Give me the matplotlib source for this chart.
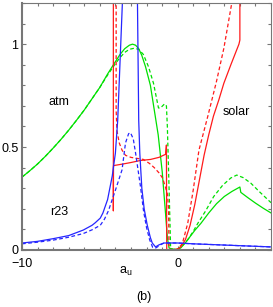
import numpy as np
import matplotlib
matplotlib.use("Agg")
import matplotlib.pyplot as plt
from matplotlib.ticker import MultipleLocator, FixedLocator, FixedFormatter

plt.rcParams['font.family'] = ['Liberation Sans', 'DejaVu Sans']

# atm (green)
atm_x = [-10, -9.5, -9, -8.5, -8, -7.5, -7, -6.5, -6, -5.5, -5, -4.5, -4, -3.7, -3.4, -3.1,
         -2.9, -2.7, -2.5, -2.3, -2.06, -1.75, -1.5, -1.25, -0.99, -0.8, -0.66, -0.55, -0.3,
         0.0, 0.2, 0.5, 0.8, 1.1, 1.5, 2.0, 2.5, 3.0, 3.5, 4.0, 4.06, 4.5, 5.0, 5.5, 6.0]
atm_y = [0.354, 0.385, 0.418, 0.455, 0.495, 0.537, 0.582, 0.63, 0.68, 0.735, 0.79, 0.855,
         0.915, 0.95, 0.978, 0.995, 1.0, 0.995, 0.978, 0.945, 0.89, 0.8, 0.68, 0.56, 0.38,
         0.2, 0.06, 0.01, 0.003, 0.003, 0.01, 0.035, 0.065, 0.095, 0.13, 0.18, 0.225, 0.26,
         0.285, 0.306, 0.28, 0.255, 0.228, 0.203, 0.18]
atm2_x = [-10, -9.5, -9, -8.5, -8, -7.5, -7, -6.5, -6, -5.5, -5, -4.5, -4, -3.7, -3.4, -3.1,
          -2.8, -2.5, -2.2, -1.87, -1.55, -1.23, -1.1, -0.84, -0.72, -0.66, -0.55, -0.45,
          -0.3, 0.0, 0.3, 0.65, 1.0, 1.3, 1.8, 2.32, 2.9, 3.42, 3.8, 4.2, 4.7, 5.3, 6.0]
atm2_y = [0.354, 0.385, 0.418, 0.455, 0.495, 0.537, 0.582, 0.63, 0.68, 0.735, 0.79, 0.85,
          0.905, 0.935, 0.96, 0.975, 0.98, 0.975, 0.95, 0.89, 0.81, 0.69, 0.69, 0.71, 0.7,
          0.6, 0.3, 0.01, 0.003, 0.005, 0.02, 0.05, 0.09, 0.13, 0.19, 0.26, 0.315, 0.35,
          0.364, 0.352, 0.325, 0.28, 0.23]

# solar (red)
sol_x = [-4.13, -4.13, -4.12, -3.5, -3.0, -2.39, -1.74, -1.2, -0.77, -0.72, -0.7, -0.4, 0.0,
         0.2, 0.5, 0.8, 1.1, 1.4, 1.7, 2.0, 2.3, 2.65, 2.97, 3.42, 3.94, 4.0, 4.0]
sol_y = [1.3, 0.19, 0.41, 0.418, 0.425, 0.435, 0.44, 0.45, 0.465, 0.51, 0.002, 0.002, 0.003,
         0.015, 0.05, 0.12, 0.22, 0.34, 0.46, 0.56, 0.65, 0.73, 0.81, 0.9, 1.0, 1.02, 1.3]
sol2_x = [-3.95, -3.95, -3.9, -3.75, -3.57, -3.35, -3.0, -2.6, -2.2, -1.8, -1.5, -1.2, -0.97,
          -0.8, -0.65, -0.58, -0.56, -0.54, -0.2, 0.0, 0.3, 0.65, 1.0, 1.37, 1.94, 2.5, 2.97,
          3.48, 3.6]
sol2_y = [1.3, 0.68, 0.58, 0.52, 0.485, 0.46, 0.45, 0.445, 0.44, 0.42, 0.4, 0.375, 0.35,
          0.31, 0.27, 0.19, 0.05, 0.003, 0.002, 0.005, 0.03, 0.13, 0.29, 0.485, 0.65, 0.82,
          0.98, 1.2, 1.3]

# r23 (blue)
r23_x = [-10, -9, -8, -7, -6.06, -5.5, -5.3, -4.97, -4.8, -4.5, -4.2, -4.0, -3.85, -3.55,
         -3.1, -2.58, -2.5, -2.43, -2.3, -2.15, -1.95, -1.75, -1.63, -1.42, -1.2, -0.88, 0.0,
         1.0, 2.0, 3.0, 4.0, 5.0, 6.0]
r23_y = [0.034, 0.042, 0.055, 0.07, 0.097, 0.12, 0.132, 0.155, 0.18, 0.245, 0.36, 0.47, 0.63,
         1.2, 1.6, 1.2, 0.63, 0.47, 0.3, 0.2, 0.12, 0.06, 0.034, 0.015, 0.025, 0.034, 0.034,
         0.03, 0.027, 0.024, 0.021, 0.018, 0.015]
r232_x = [-10, -9, -8, -7, -6.06, -5.5, -4.97, -4.7, -4.45, -4.0, -3.57, -3.35, -3.15, -3.03,
          -2.85, -2.7, -2.39, -2.19, -2.0, -1.8, -1.6, -1.4, -1.1, -0.88, 0.0, 1.0, 2.0, 3.0,
          4.0, 5.0, 6.0]
r232_y = [0.03, 0.038, 0.048, 0.062, 0.08, 0.098, 0.12, 0.15, 0.19, 0.29, 0.39, 0.52, 0.565,
          0.57, 0.54, 0.47, 0.31, 0.19, 0.11, 0.05, 0.012, 0.01, 0.025, 0.034, 0.034, 0.03,
          0.027, 0.024, 0.021, 0.018, 0.015]

green = '#00e000'
red = '#ff1a1a'
blue = '#2525ff'
dash = (0, (3, 2))

fig = plt.figure(figsize=(2.73, 3.07), dpi=100)
ax = fig.add_axes([22 / 273, 1 - 250 / 307, 249 / 273, 247 / 307])

ax.plot(atm_x, atm_y, color=green, lw=0.9)
ax.plot(atm2_x, atm2_y, color=green, lw=0.9, linestyle=dash)
ax.plot(sol_x, sol_y, color=red, lw=0.9)
ax.plot(sol2_x, sol2_y, color=red, lw=0.9, linestyle=dash)
ax.plot(r23_x, r23_y, color=blue, lw=0.9)
ax.plot(r232_x, r232_y, color=blue, lw=0.9, linestyle=dash)

ax.set_xlim(-10, 6)
ax.set_ylim(0, 1.2)

ax.xaxis.set_major_locator(FixedLocator([-10, 0]))
ax.xaxis.set_major_formatter(FixedFormatter(['\u221210', '0']))
ax.xaxis.set_minor_locator(MultipleLocator(1))
ax.yaxis.set_major_locator(FixedLocator([0, 0.5, 1]))
ax.yaxis.set_major_formatter(FixedFormatter(['0', '0.5', '1']))
ax.yaxis.set_minor_locator(MultipleLocator(0.1))

ax.tick_params(which='both', direction='in', top=True, right=True, color='#777777',
               labelsize=9)
ax.tick_params(which='major', length=3, width=0.8)
ax.tick_params(which='minor', length=2.2, width=0.8)
ax.tick_params(axis='y', which='major', pad=2.5)
ax.tick_params(axis='x', which='major', pad=5.5)
for s in ['left', 'bottom']:
    ax.spines[s].set_linewidth(1.5)
    ax.spines[s].set_color('#777777')
for s in ['top', 'right']:
    ax.spines[s].set_linewidth(0.8)
    ax.spines[s].set_color('#777777')

ax.text(-7.6, 0.72, 'atm', fontsize=9, ha='center', va='center')
ax.text(3.75, 0.67, 'solar', fontsize=9, ha='center', va='center')
ax.text(-7.6, 0.185, 'r23', fontsize=9, ha='center', va='center')

fig.text(126 / 273, 1 - 271 / 307, 'a$_\\mathregular{u}$', fontsize=9, ha='center', va='center')
fig.text(144 / 273, 1 - 297 / 307, '(b)', fontsize=9, ha='center', va='center')

fig.savefig('out.png', dpi=100)
